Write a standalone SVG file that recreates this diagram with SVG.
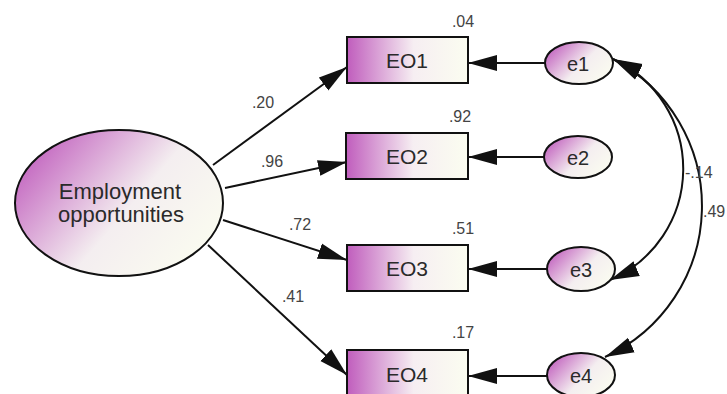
<svg xmlns="http://www.w3.org/2000/svg" width="727" height="394" viewBox="0 0 727 394">
  <style>
    .edge { fill: none; stroke: #111; stroke-width: 2; }
    .shape { stroke: #111; stroke-width: 2; }
    .lbl { font-family: "Liberation Sans", Arial, sans-serif; fill: #2a2a2a; text-anchor: middle; }
    .big { font-size: 22px; }
    .obs { font-size: 21px; }
    .err { font-size: 20px; }
    .num { font-family: "Liberation Sans", Arial, sans-serif; fill: #444; font-size: 16px; }
  </style>
  <defs>
    <linearGradient id="gBox" x1="0" y1="0" x2="1" y2="0">
      <stop offset="0" stop-color="#c05dbd"/>
      <stop offset="0.55" stop-color="#f6eef2"/>
      <stop offset="1" stop-color="#fbfdf0"/>
    </linearGradient>
    <linearGradient id="gOval" x1="0" y1="0.2" x2="1" y2="0.8">
      <stop offset="0" stop-color="#c05dbd"/>
      <stop offset="0.55" stop-color="#f4eef0"/>
      <stop offset="1" stop-color="#fbfdf0"/>
    </linearGradient>
    <marker id="arr" markerUnits="userSpaceOnUse" markerWidth="30" markerHeight="18" viewBox="0 0 30 18" refX="29" refY="9" orient="auto-start-reverse">
      <path d="M0,1 L29,9 L0,17 Z" fill="#111"/>
    </marker>
  </defs>

  <!-- connectors -->
  <g id="connectors">
    <line class="edge" x1="213" y1="165" x2="347" y2="67" marker-end="url(#arr)"/>
    <line class="edge" x1="225" y1="188" x2="347" y2="162" marker-end="url(#arr)"/>
    <line class="edge" x1="223" y1="220" x2="347" y2="260" marker-end="url(#arr)"/>
    <line class="edge" x1="208" y1="245" x2="347" y2="375" marker-end="url(#arr)"/>

    <line class="edge" x1="545" y1="63" x2="468" y2="63" marker-end="url(#arr)"/>
    <line class="edge" x1="544" y1="157" x2="468" y2="157" marker-end="url(#arr)"/>
    <line class="edge" x1="547" y1="269" x2="468" y2="269" marker-end="url(#arr)"/>
    <line class="edge" x1="547" y1="376" x2="468" y2="376" marker-end="url(#arr)"/>

    <path class="edge" d="M613,59 A121,121 0 0 1 610,280" marker-start="url(#arr)" marker-end="url(#arr)"/>
    <path class="edge" d="M613,59 A166,166 0 0 1 605,357" marker-start="url(#arr)" marker-end="url(#arr)"/>

    <text class="num" x="263" y="108" text-anchor="middle">.20</text>
    <text class="num" x="272" y="167" text-anchor="middle">.96</text>
    <text class="num" x="300" y="230" text-anchor="middle">.72</text>
    <text class="num" x="293" y="302" text-anchor="middle">.41</text>
    <text class="num" x="685" y="178">-.14</text>
    <text class="num" x="703" y="217">.49</text>
  </g>

  <!-- latent factor -->
  <g id="employment">
    <ellipse class="shape" cx="119" cy="203" rx="104" ry="73" fill="url(#gOval)"/>
    <text class="lbl big" x="120" y="199">Employment</text>
    <text class="lbl big" x="121" y="222">opportunities</text>
  </g>

  <!-- observed indicators -->
  <g id="EO1">
    <rect class="shape" x="347" y="37" width="121" height="46" fill="url(#gBox)"/>
    <text class="lbl obs" x="407" y="68">EO1</text>
    <text class="num" x="463" y="27" text-anchor="middle">.04</text>
  </g>
  <g id="EO2">
    <rect class="shape" x="346" y="133" width="122" height="46" fill="url(#gBox)"/>
    <text class="lbl obs" x="407" y="164">EO2</text>
    <text class="num" x="460" y="122" text-anchor="middle">.92</text>
  </g>
  <g id="EO3">
    <rect class="shape" x="347" y="245" width="121" height="46" fill="url(#gBox)"/>
    <text class="lbl obs" x="407" y="276">EO3</text>
    <text class="num" x="463" y="234" text-anchor="middle">.51</text>
  </g>
  <g id="EO4">
    <rect class="shape" x="347" y="350" width="121" height="46" fill="url(#gBox)"/>
    <text class="lbl obs" x="407" y="382">EO4</text>
    <text class="num" x="463" y="338" text-anchor="middle">.17</text>
  </g>

  <!-- error terms -->
  <g id="e1">
    <ellipse class="shape" cx="579" cy="63" rx="34" ry="21" fill="url(#gOval)"/>
    <text class="lbl err" x="578" y="71">e1</text>
  </g>
  <g id="e2">
    <ellipse class="shape" cx="578" cy="157" rx="34" ry="21" fill="url(#gOval)"/>
    <text class="lbl err" x="578" y="165">e2</text>
  </g>
  <g id="e3">
    <ellipse class="shape" cx="581" cy="269" rx="34" ry="22" fill="url(#gOval)"/>
    <text class="lbl err" x="581" y="277">e3</text>
  </g>
  <g id="e4">
    <ellipse class="shape" cx="581" cy="375" rx="34" ry="22" fill="url(#gOval)"/>
    <text class="lbl err" x="581" y="383">e4</text>
  </g>
</svg>
